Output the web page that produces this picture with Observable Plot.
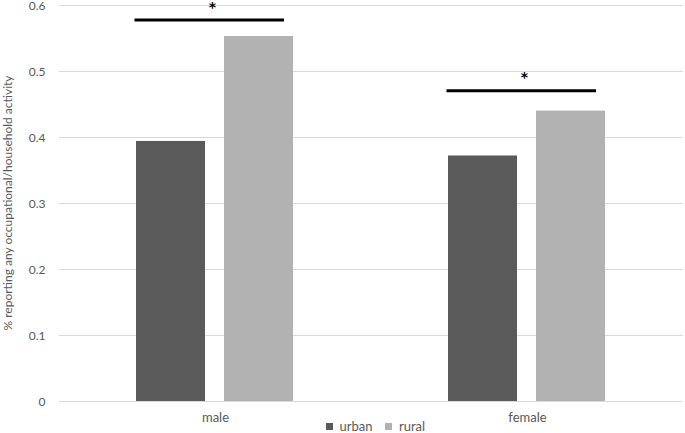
<!DOCTYPE html>
<html>
<head>
<meta charset="utf-8">
<script src="https://cdn.jsdelivr.net/npm/d3@7"></script>
<script src="https://cdn.jsdelivr.net/npm/@observablehq/plot@0.6"></script>
<style>
  html, body { margin: 0; padding: 0; background: #fff; overflow: hidden; }
  #chart { width: 685px; height: 433px; position: relative; }
</style>
</head>
<body>
<div id="chart"></div>
<script>
const sexes = ["male", "female"];
const areas = ["urban", "rural"];
const urbanValues = [0.394, 0.372];
const ruralValues = [0.553, 0.440];
const sigLevels = [0.578, 0.471];
const sigLabels = ["*", "*"];
const yTicks = [0, 0.1, 0.2, 0.3, 0.4, 0.5, 0.6];
const areaColors = ["#5a5a5a", "#b2b2b2"];
const yLabel = "% reporting any occupational/household activity";

const rows = [];
sexes.forEach((s, i) => {
  rows.push({sex: s, area: "urban", value: urbanValues[i]});
  rows.push({sex: s, area: "rural", value: ruralValues[i]});
});
const sig = sexes.map((s, i) => ({sex: s, level: sigLevels[i], label: sigLabels[i]}));

const font = "Lato, 'Open Sans', sans-serif";

const plot = Plot.plot({
  width: 685,
  height: 420,
  marginTop: 5,
  marginBottom: 19,
  marginLeft: 59,
  marginRight: 2,
  style: {fontFamily: font, fontSize: "13px", color: "#595959", background: "#fff", overflow: "visible"},
  fx: {domain: sexes, padding: 0, label: null, axis: "bottom", tickSize: 0, tickPadding: 11},
  x: {domain: areas, paddingInner: 0.213, paddingOuter: 0.865, axis: null},
  y: {domain: [0, 0.6], ticks: yTicks, tickSize: 0, tickPadding: 14, label: null, tickFormat: d3.format("")},
  color: {domain: areas, range: areaColors},
  marks: [
    Plot.gridY(yTicks, {stroke: "#d9d9d9", strokeOpacity: 1, strokeWidth: 1}),
    Plot.axisY(yTicks, {tickSize: 0, tickPadding: 14, fontSize: 12, dy: 1, tickFormat: d3.format(""), label: null}),
    Plot.barY(rows, {fx: "sex", x: "area", y: "value", fill: "area"}),
    Plot.ruleY(sig, {fx: "sex", x1: () => "urban", x2: () => "rural", y: "level", stroke: "#000", strokeWidth: 3, insetLeft: -1.5, insetRight: 9}),
    Plot.text(sig, {fx: "sex", y: "level", text: "label", dy: -13, dx: -3, fontSize: 14, fontWeight: "bold", fill: "#000", fontFamily: "'DejaVu Sans', sans-serif"})
  ]
});

const chart = document.getElementById("chart");
chart.appendChild(plot);

// rotated y-axis title
const ns = "http://www.w3.org/2000/svg";
const t = document.createElementNS(ns, "text");
t.setAttribute("transform", "translate(12,203) rotate(-90)");
t.setAttribute("text-anchor", "middle");
t.setAttribute("font-size", "12");
t.setAttribute("fill", "#595959");
t.setAttribute("font-family", font);
t.textContent = yLabel;
plot.appendChild(t);

const legend = Plot.legend({
  color: {domain: areas, range: areaColors},
  legend: "swatches",
  swatchSize: 7,
  style: {fontFamily: font, fontSize: "13px", color: "#595959", marginLeft: "326px", marginTop: "0px", lineHeight: "13px", minHeight: "13px"}
});
chart.appendChild(legend);
</script>
</body>
</html>
